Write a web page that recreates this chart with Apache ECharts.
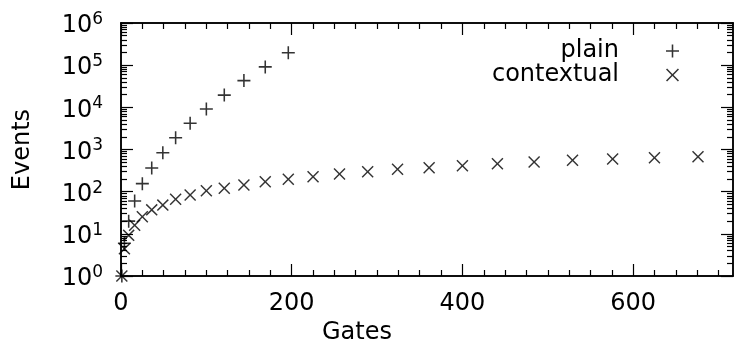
<!DOCTYPE html>
<html>
<head>
<meta charset="utf-8">
<script src="https://cdn.jsdelivr.net/npm/echarts@6/dist/echarts.min.js"></script>
<style>
  html, body { margin: 0; padding: 0; background: #fff; }
  #chart { width: 735px; height: 350px; }
</style>
</head>
<body>
<div id="chart"></div>
<script>
// gates = n^2 for n = 1..26
const gates = [1, 4, 9, 16, 25, 36, 49, 64, 81, 100, 121, 144, 169, 196,
  225, 256, 289, 324, 361, 400, 441, 484, 529, 576, 625, 676];
const plainEvents = [1, 6, 20, 60, 155, 363, 838, 1900, 4200, 9100,
  19500, 43000, 91000, 198000];
const contextualEvents = [1, 4.4, 9.2, 16, 25.5, 37, 48, 66, 83, 105, 120, 144,
  172, 196, 226, 262, 297, 339, 370, 413, 460, 505, 554, 595, 638, 675];

const xMajor = [0, 200, 400, 600];
const xMinor = [25, 50, 75, 100, 125, 150, 175, 225, 250, 275, 300, 325, 350, 375,
  425, 450, 475, 500, 525, 550, 575, 625, 650, 675, 700];
const yMajor = [1, 10, 100, 1000, 10000, 100000, 1000000];
const yMinor = [];
yMajor.slice(0, -1).forEach(d => {
  for (let k = 2; k <= 9; k++) yMinor.push(d * k);
});

const font = "DejaVu Sans";
const fs = 24;
const black = "#000";

const plusPath = "path://M8.8,0h2.4v20h-2.4zM0,8.8h20v2.4h-20z";
const crossPath = "path://M1.7,0L10,8.3L18.3,0L20,1.7L11.7,10L20,18.3L18.3,20L10,11.7L1.7,20L0,18.3L8.3,10L0,1.7Z";

const lineStyle = { color: black, width: 1.5 };

const xAxisBase = (position, ticks, len, labels) => ({
  type: "value",
  position,
  min: 0,
  max: 717,
  axisLine: { show: labels !== null, onZero: false, lineStyle },
  axisTick: { inside: true, length: len, customValues: ticks, lineStyle: { color: black, width: 1.2 } },
  axisLabel: labels ? {
    customValues: labels, margin: 16,
    fontFamily: font, fontSize: fs, color: black
  } : { show: false },
  splitLine: { show: false }
});

const yAxisBase = (position, ticks, len, labels) => ({
  type: "log",
  logBase: 10,
  position,
  min: 1,
  max: 1000000,
  axisLine: { show: labels !== null, onZero: false, lineStyle },
  axisTick: { inside: true, length: len, customValues: ticks, lineStyle: { color: black, width: 1.2 } },
  axisLabel: labels ? {
    customValues: labels, margin: 18,
    formatter: v => "{a|10}{b|" + Math.round(Math.log10(v)) + "}",
    rich: {
      a: { fontFamily: font, fontSize: fs, color: black, lineHeight: 24, padding: [6, 0, 0, 0] },
      b: { fontFamily: font, fontSize: 17, color: black, lineHeight: 17, verticalAlign: "top" }
    }
  } : { show: false },
  splitLine: { show: false }
});

const x0 = xAxisBase("bottom", xMajor, 12, xMajor);
x0.name = "Gates";
x0.nameLocation = "middle";
x0.nameGap = 42;
x0.nameTextStyle = { fontFamily: font, fontSize: fs, color: black, padding: [0, 140, 0, 0] };

const y0 = yAxisBase("left", yMajor, 12, yMajor);
y0.name = "Events";
y0.nameLocation = "middle";
y0.nameGap = 86;
y0.nameTextStyle = { fontFamily: font, fontSize: fs, color: black };

const chart = echarts.init(document.getElementById("chart"));
chart.setOption({
  backgroundColor: "#fff",
  animation: false,
  grid: { left: 121, right: 2, top: 23, bottom: 74 },
  xAxis: [
    x0,
    xAxisBase("bottom", xMinor, 6, false),
    xAxisBase("top", xMajor, 12, false),
    xAxisBase("top", xMinor, 6, false)
  ],
  yAxis: [
    y0,
    yAxisBase("left", yMinor, 6, false),
    yAxisBase("right", yMajor, 12, false),
    yAxisBase("right", yMinor, 6, false)
  ],
  legend: {
    orient: "vertical",
    align: "right",
    right: 51,
    top: 34,
    itemWidth: 13,
    itemHeight: 13,
    itemGap: 0,
    textStyle: { fontFamily: font, fontSize: fs, lineHeight: 20, color: black, padding: [0, 42, 0, 0] },
    data: ["plain", "contextual"]
  },
  series: [
    {
      name: "plain",
      type: "scatter",
      symbol: plusPath,
      symbolSize: 13,
      itemStyle: { color: black },
      data: plainEvents.map((e, i) => [gates[i], e])
    },
    {
      name: "contextual",
      type: "scatter",
      symbol: crossPath,
      symbolSize: 12,
      itemStyle: { color: black },
      data: contextualEvents.map((e, i) => [gates[i], e])
    }
  ]
});
</script>
</body>
</html>
